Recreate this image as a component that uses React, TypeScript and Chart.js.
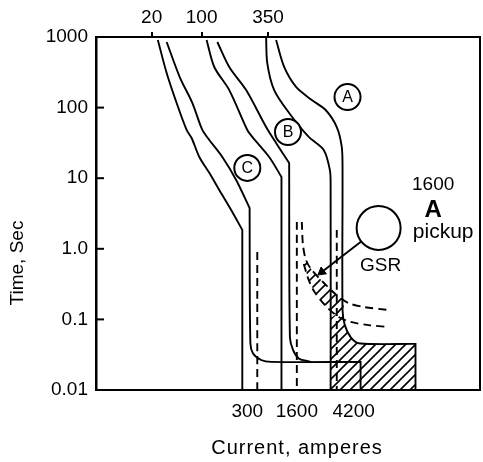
import React, { useEffect, useRef } from 'react';
import { Chart, registerables } from 'chart.js';

Chart.register(...registerables);

// ---- axis ticks ----
const yTickValues = [0.01, 0.1, 1, 10, 100, 1000];
const yTickLabels = ['0.01', '0.1', '1.0', '10', '100', '1000'];
const yInnerTicks = [0.1, 1, 10, 100];
// x axis is a schematic current position (0..100)
const bottomTickPos = [39.4, 52.3, 67.1];
const bottomTickLabels = ['300', '1600', '4200'];
const topTickPos = [14.5, 27.5, 44.8];
const topTickLabels = ['20', '100', '350'];

// ---- curves: [position, time s]; a repeated point marks a sharp corner ----
const curveCLeft = [[16.1, 907], [18.4, 309], [21.0, 116], [23.6, 48.2], [24.9, 37.1], [26.9, 20.0], [29.5, 11.9], [32.1, 6.81], [35.2, 3.55], [38.1, 1.85], [38.1, 1.85], [38.1, 0.01]];
const curveCRight = [[18.4, 850], [21.8, 271], [25.1, 116], [27.7, 48.2], [29.5, 34.8], [32.9, 20.0], [36.5, 9.44], [40.0, 3.78], [40.0, 3.78], [40.2, 0.046], [40.9, 0.033], [43.0, 0.0266], [45.6, 0.025], [68.9, 0.025], [68.9, 0.025], [68.9, 0.01]];
const curveBLeft = [[28.8, 907], [30.8, 376], [34.7, 177], [39.4, 48.2], [40.7, 38.4], [45.1, 20.0], [48.3, 10.4], [48.3, 10.4], [48.3, 0.01]];
const curveBRight = [[31.6, 850], [34.7, 376], [39.1, 177], [44.3, 53.1], [46.9, 31.5], [50.3, 16.4], [50.3, 16.4], [50.5, 0.056], [51.3, 0.037], [52.8, 0.028], [54.9, 0.0258], [56.0, 0.025]];
const curveALeft = [[44.3, 1000], [44.6, 428], [46.4, 177], [50.3, 83.9], [55.4, 38.4], [59.3, 25.1], [60.9, 13.1], [61.1, 8.02], [61.1, 0.01]];
const curveARight = [[46.9, 907], [49.0, 376], [52.1, 196], [56.2, 128], [59.8, 92.5], [62.7, 53.1], [64.0, 27.7], [64.2, 13.1], [64.2, 0.136], [64.8, 0.083], [66.3, 0.056], [68.4, 0.046], [83.2, 0.045], [83.2, 0.045], [83.2, 0.01]];
const dashC = [[42.0, 0.9], [42.0, 0.01]];
const dashB = [[52.3, 2.4], [52.3, 0.01]];
const dashA = [[62.7, 1.85], [62.7, 0.01]];
const gsrUpper = [[53.6, 2.4], [53.9, 1.13], [54.7, 0.69], [56.2, 0.5], [59.3, 0.33], [62.7, 0.22], [65.8, 0.17], [69.7, 0.15], [76.2, 0.136]];
const gsrLower = [[54.1, 0.61], [55.4, 0.36], [57.0, 0.24], [60.1, 0.15], [63.2, 0.108], [66.3, 0.092], [71.0, 0.083], [76.2, 0.078]];
const gsrBand = [[54.7, 0.69], [56.2, 0.5], [59.3, 0.33], [62.7, 0.22], [64.5, 0.19], [64.5, 0.101], [63.2, 0.108], [60.1, 0.15], [57.0, 0.24], [55.4, 0.36], [54.1, 0.61], [54.7, 0.69]];
const pickupZone = [[61.1, 0.01], [61.1, 0.105], [64.2, 0.136], [64.8, 0.083], [66.3, 0.056], [68.4, 0.046], [83.2, 0.045], [83.2, 0.01], [61.1, 0.01]];
const arrowLine = [[73.6, 1.97], [58.8, 0.47]];
const arrowTip = [[58.8, 0.47]];

// ---- circled markers ----
const markerPos = [[65.5, 141], [50.0, 45.1], [39.4, 14.0], [73.6, 1.97]];
const markerLabels = ['A', 'B', 'C', ''];

// ---- free notes ----
const noteTexts = ['1600', 'A', 'pickup', 'GSR'];
const notePos = [[87.8, 8.0], [87.8, 3.55], [90.4, 1.73], [74.1, 0.57]];

const xTitle = 'Current, amperes';
const yTitle = 'Time, Sec';

const FONT = '"Liberation Sans", Arial, Helvetica, sans-serif';
const toPts = (a: number[][]) => a.map(([x, y]) => ({ x, y }));

function makeHatch(): CanvasPattern | string {
  const c = document.createElement('canvas');
  c.width = 10;
  c.height = 10;
  const g = c.getContext('2d');
  if (!g) return '#888';
  g.strokeStyle = '#000';
  g.lineWidth = 1.6;
  g.beginPath();
  g.moveTo(-2, 12); g.lineTo(12, -2);
  g.moveTo(-2, 2); g.lineTo(2, -2);
  g.moveTo(8, 12); g.lineTo(12, 8);
  g.stroke();
  return g.createPattern(c, 'repeat') || '#888';
}

const notesPlugin = {
  id: 'notes',
  afterDraw(chart: any) {
    const { ctx, chartArea } = chart;
    const x = chart.scales.x;
    const y = chart.scales.y;
    ctx.save();
    // right frame edge
    ctx.strokeStyle = '#000';
    ctx.lineWidth = 2;
    ctx.beginPath();
    ctx.moveTo(chartArea.right, chartArea.top - 1);
    ctx.lineTo(chartArea.right, chartArea.bottom + 1);
    ctx.stroke();
    // inner tick marks on the time axis
    for (const v of yInnerTicks) {
      const py = y.getPixelForValue(v);
      ctx.beginPath();
      ctx.moveTo(chartArea.left, py);
      ctx.lineTo(chartArea.left + 8, py);
      ctx.stroke();
    }
    ctx.fillStyle = '#000';
    ctx.textAlign = 'center';
    ctx.textBaseline = 'middle';
    ctx.font = `16px ${FONT}`;
    markerPos.forEach(([mx, my], i) => {
      if (!markerLabels[i]) return;
      ctx.fillText(markerLabels[i], x.getPixelForValue(mx), y.getPixelForValue(my) + 1);
    });
    const fonts = [`19px ${FONT}`, `bold 24px ${FONT}`, `21px ${FONT}`, `19px ${FONT}`];
    noteTexts.forEach((t, i) => {
      ctx.font = fonts[i];
      ctx.fillText(t, x.getPixelForValue(notePos[i][0]), y.getPixelForValue(notePos[i][1]));
    });
    // x title (slightly right of centre, letter-spaced as in the original)
    ctx.font = `20px ${FONT}`;
    (ctx as any).letterSpacing = '1px';
    ctx.fillText(xTitle, 297, 448);
    (ctx as any).letterSpacing = '0px';
    // y title
    ctx.font = `19px ${FONT}`;
    ctx.translate(18, 263);
    ctx.rotate(-Math.PI / 2);
    ctx.fillText(yTitle, 0, 0);
    ctx.restore();
  },
};

export default function App() {
  const ref = useRef<HTMLCanvasElement | null>(null);
  useEffect(() => {
    if (!ref.current) return;
    const hatch = makeHatch();
    const solid = (data: number[][]) => ({
      data: toPts(data), borderColor: '#000', borderWidth: 1.9, pointRadius: 0, fill: false, tension: 0.3, order: 5,
    });
    const dashed = (data: number[][]) => ({
      data: toPts(data), borderColor: '#000', borderWidth: 1.9, borderDash: [8, 5], pointRadius: 0, fill: false, tension: 0.3, order: 5,
    });
    const hatched = (data: number[][]) => ({
      data: toPts(data), borderColor: 'rgba(0,0,0,0)', borderWidth: 1, pointRadius: 0, fill: 'shape', backgroundColor: hatch, order: 9,
    });
    const fixH = (ax: any, h: number) => { ax.height = h; ax.paddingLeft = 0; ax.paddingRight = 0; };
    const fixW = (ax: any, w: number) => { ax.width = w; ax.paddingTop = 0; ax.paddingBottom = 0; };
    const chart = new Chart(ref.current, {
      type: 'line',
      data: {
        datasets: [
          {
            data: toPts(markerPos), showLine: false, pointRadius: [13, 13, 13, 22], pointHoverRadius: [13, 13, 13, 22],
            pointBackgroundColor: '#fff', pointBorderColor: '#000', pointBorderWidth: 2, order: 0,
          } as any,
          {
            data: toPts(arrowTip), showLine: false, pointStyle: 'triangle', rotation: 232, pointRadius: 5,
            pointBackgroundColor: '#000', pointBorderColor: '#000', pointBorderWidth: 1, order: 1,
          },
          { ...solid(arrowLine), tension: 0 },
          hatched(pickupZone),
          hatched(gsrBand),
          solid(curveCLeft), solid(curveCRight),
          solid(curveBLeft), solid(curveBRight),
          solid(curveALeft), solid(curveARight),
          dashed(dashC), dashed(dashB), dashed(dashA),
          dashed(gsrUpper), dashed(gsrLower),
        ] as any,
      },
      options: {
        animation: false,
        responsive: false,
        devicePixelRatio: 1,
        layout: { padding: { left: 0, top: 0, bottom: 0, right: 3 }, autoPadding: false },
        plugins: { legend: { display: false }, tooltip: { enabled: false } },
        events: [],
        scales: {
          x: {
            type: 'linear', position: 'bottom', min: 0, max: 100,
            grid: { display: false, drawTicks: false },
            border: { display: true, color: '#000', width: 2 },
            afterBuildTicks: (ax: any) => { ax.ticks = bottomTickPos.map((v) => ({ value: v })); },
            afterFit: (ax: any) => fixH(ax, 72),
            ticks: {
              autoSkip: false, maxRotation: 0, padding: 10, color: '#000', font: { family: FONT, size: 19 },
              callback: (_v: any, i: number) => bottomTickLabels[i],
            },
          },
          xTop: {
            type: 'linear', position: 'top', min: 0, max: 100,
            grid: { display: true, drawOnChartArea: false, drawTicks: true, tickLength: 5, color: '#000', lineWidth: 2 },
            border: { display: true, color: '#000', width: 2 },
            afterBuildTicks: (ax: any) => { ax.ticks = topTickPos.map((v) => ({ value: v })); },
            afterFit: (ax: any) => fixH(ax, 37),
            ticks: {
              autoSkip: false, maxRotation: 0, padding: 3, color: '#000', font: { family: FONT, size: 19 },
              callback: (_v: any, i: number) => topTickLabels[i],
            },
          },
          y: {
            type: 'logarithmic', position: 'left', min: 0.01, max: 1000,
            grid: { display: false, drawTicks: false },
            border: { display: true, color: '#000', width: 2.5 },
            afterBuildTicks: (ax: any) => { ax.ticks = yTickValues.map((v) => ({ value: v })); },
            afterFit: (ax: any) => fixW(ax, 96),
            ticks: {
              autoSkip: false, padding: 8, color: '#000', font: { family: FONT, size: 19 },
              callback: (v: any) => {
                const i = yTickValues.findIndex((t) => Math.abs(Math.log10(t) - Math.log10(Number(v))) < 1e-6);
                return i >= 0 ? yTickLabels[i] : '';
              },
            },
          },
        },
      } as any,
      plugins: [notesPlugin],
    });
    return () => chart.destroy();
  }, []);
  return (
    <div style={{ position: 'fixed', left: 0, top: 0, width: 483, height: 462, background: '#fff' }}>
      <canvas ref={ref} width={483} height={462} style={{ width: 483, height: 462, display: 'block' }} />
    </div>
  );
}
